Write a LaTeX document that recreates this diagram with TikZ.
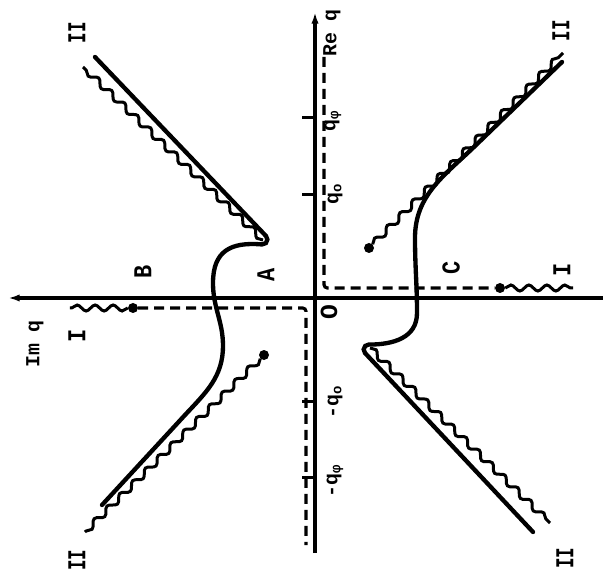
\documentclass[tikz,border=0pt]{standalone}
\usepackage{fontspec}
\setmonofont{Liberation Mono}
\usetikzlibrary{arrows.meta,decorations.pathmorphing}
\tikzset{
  axis/.style={line width=1mm,draw=black},
  tickmark/.style={line width=0.9mm,draw=black},
  contour/.style={line width=1.3mm,draw=black,line cap=round},
  cut/.style={line width=0.9mm,draw=black,decorate,decoration={snake,amplitude=0.9mm,segment length=5.4mm}},
  dashpath/.style={line width=0.95mm,draw=black,dash pattern=on 3mm off 1.8mm,rounded corners=1mm},
  dot/.style={circle,fill=black,inner sep=0pt,minimum size=3mm},
  lbl/.style={font=\ttfamily\bfseries\fontsize{22}{22}\selectfont,rotate=90,xscale=0.85,inner sep=0pt},
  axlbl/.style={font=\ttfamily\bfseries\fontsize{17}{17}\selectfont,rotate=90,inner sep=0pt}
}

\begin{document}
\begin{tikzpicture}[x=0.3mm,y=0.3mm]
  \useasboundingbox (-315,-277) rectangle (288,298);
  % axes
  \coordinate (O) at (0,0);
  \coordinate (imL) at (-307,0);
  \coordinate (imR) at (288,0);
  \coordinate (reB) at (0,-255);
  \coordinate (reT) at (0,286);
  \draw[axis,-{Latex[length=3.5mm,width=2.2mm]}] (imR) -- (imL);
  \draw[axis,-{Latex[length=3.5mm,width=2.2mm]}] (reB) -- (reT);
  \foreach \y in {180,103,-103,-179}
    \draw[tickmark] (-13,\y) -- (O |- 0,\y);

  % branch points and cuts
  \coordinate (bUL) at (-52,58);
  \coordinate (bLR) at (55,-50);
  \node[dot] (bUR) at (54,50) {};
  \node[dot] (bLL) at (-51,-57) {};
  \coordinate (eUL) at (-232,231);
  \coordinate (eUR) at (248,245);
  \coordinate (eLL) at (-230,-234);
  \coordinate (eLR) at (235,-225);
  \draw[cut] (bUL) -- (eUL);
  \draw[cut] (bUR) -- (eUR);
  \draw[cut] (bLL) -- (eLL);
  \draw[cut] (bLR) -- (eLR);

  % dashed paths along the axes
  \coordinate (dT) at (9,241);
  \coordinate (dB) at (-9,-247);
  \node[dot] (dR) at (185,10) {};
  \node[dot] (dL) at (-182,-10) {};
  \coordinate (wR) at (258,10);
  \coordinate (wL) at (-245,-10);
  \draw[dashpath] (dT) -- (9,10) -- (dR);
  \draw[dashpath] (dL) -- (-9,-10) -- (dB);
  \draw[cut] (dR) -- (wR);
  \draw[cut] (dL) -- (wL);

  % contours
  \draw[contour] (-220,241) -- (-49,62) arc[start angle=44,end angle=-95,radius=1.5mm]
    to[out=175,in=90,looseness=1.3] (-102,15) to[out=-90,in=90] (-92,-48)
    to[out=-90,in=47] (-130,-117) -- (-213,-207);
  \draw[contour] (218,-234) -- (50,-55) arc[start angle=223,end angle=90,radius=1.5mm]
    to[out=0,in=-90,looseness=1.1] (102,-15) to[out=90,in=-90] (100,60)
    to[out=90,in=-136] (160,152) -- (247,236);

  % labels
  \node[axlbl] (lRe) at (17,265) {Re q};
  \node[axlbl] (lIm) at (-280,-46) {Im q};
  \node[axlbl] (lqf) at (18,177) {q\textsubscript{φ}};
  \node[axlbl] (lqo) at (20,104) {q\textsubscript{o}};
  \node[axlbl] (lmqo) at (20,-104) {-q\textsubscript{o}};
  \node[axlbl] (lmqf) at (20,-183) {-q\textsubscript{φ}};
  \node[axlbl,font=\ttfamily\bfseries\fontsize{21}{21}\selectfont] (lO) at (14,-14) {O};
  \node[lbl,xscale=0.8] (lIIul) at (-238,265) {II};
  \node[lbl,xscale=0.8] (lIIur) at (246,267) {II};
  \node[lbl,xscale=0.8] (lIIll) at (-238,-262) {II};
  \node[lbl,xscale=0.8] (lIIlr) at (250,-260) {II};
  \node[lbl] (lIr) at (247,28) {I};
  \node[lbl] (lIl) at (-238,-38) {I};
  \node[lbl] (lB) at (-172,26) {B};
  \node[lbl] (lA) at (-49,23) {A};
  \node[lbl] (lC) at (136,30) {C};
\end{tikzpicture}
\end{document}
